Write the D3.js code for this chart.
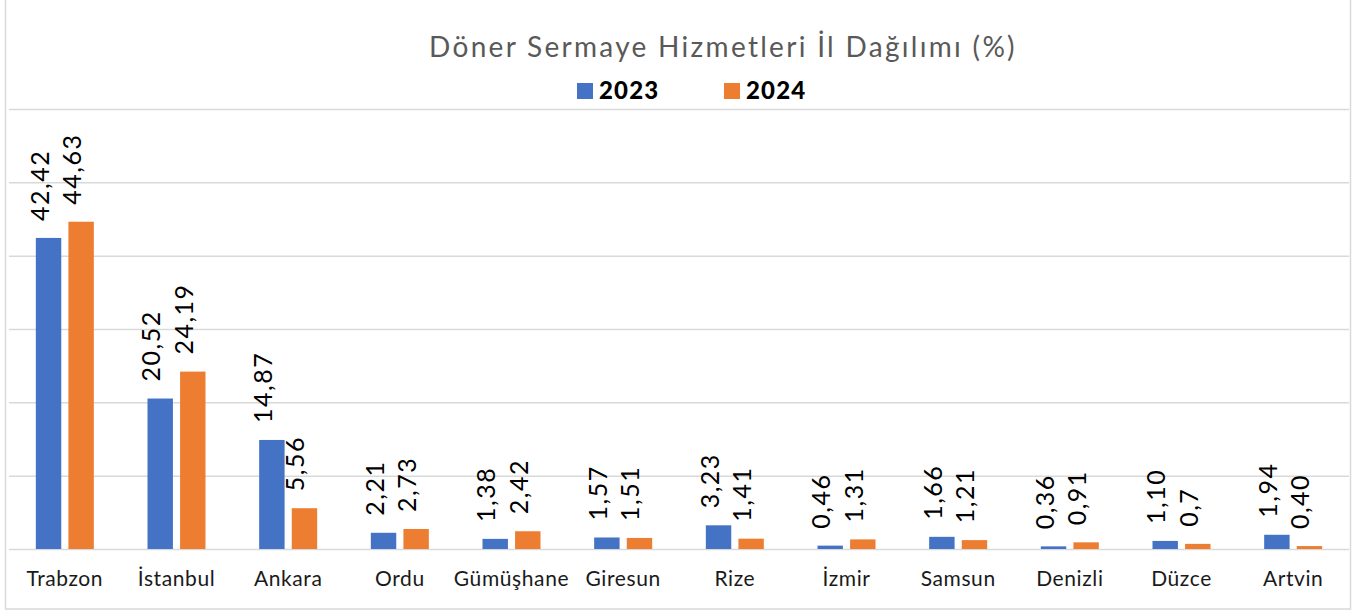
<!DOCTYPE html>
<html>
<head>
<meta charset="utf-8">
<script src="https://cdn.jsdelivr.net/npm/d3@7"></script>
<style>
  body { margin: 0; background: #fff; }
  svg { display: block; font-family: "Lato", sans-serif; }
</style>
</head>
<body>
<div id="chart"></div>
<script>
// Veriler
const cities = ["Trabzon", "İstanbul", "Ankara", "Ordu", "Gümüşhane", "Giresun", "Rize", "İzmir", "Samsun", "Denizli", "Düzce", "Artvin"];
const values2023 = [42.42, 20.52, 14.87, 2.21, 1.38, 1.57, 3.23, 0.46, 1.66, 0.36, 1.10, 1.94];
const values2024 = [44.63, 24.19, 5.56, 2.73, 2.42, 1.51, 1.41, 1.31, 1.21, 0.91, 0.7, 0.40];
const labels2023 = ["42,42", "20,52", "14,87", "2,21", "1,38", "1,57", "3,23", "0,46", "1,66", "0,36", "1,10", "1,94"];
const labels2024 = ["44,63", "24,19", "5,56", "2,73", "2,42", "1,51", "1,41", "1,31", "1,21", "0,91", "0,7", "0,40"];
const years = ["2023", "2024"];
const yTicks = [0, 10, 20, 30, 40, 50, 60];

const width = 1365, height = 611;
const margin = {top: 109, right: 16, bottom: 62, left: 9};
const plotW = width - margin.left - margin.right;
const plotH = height - margin.top - margin.bottom;

const svg = d3.select("#chart")
  .append("svg")
  .attr("width", width)
  .attr("height", height);

// Çerçeve
svg.append("rect")
  .attr("x", 5.5).attr("y", -1)
  .attr("width", 1345).attr("height", 610)
  .attr("fill", "none")
  .attr("stroke", "#d9d9d9")
  .attr("stroke-width", 1.5);

const g = svg.append("g")
  .attr("transform", `translate(${margin.left},${margin.top})`);

// Ölçekler
const x = d3.scaleBand().domain(cities).range([0, plotW]).paddingInner(0).paddingOuter(0);
const x1 = d3.scaleBand().domain(years).range([x.bandwidth() / 2 - 29, x.bandwidth() / 2 + 29]).paddingInner(0.22);
const y = d3.scaleLinear().domain([0, 60]).range([plotH, 0]);

// Izgara çizgileri
g.append("g")
  .call(d3.axisLeft(y).tickValues(yTicks).tickSize(-plotW).tickFormat(""))
  .call(a => a.select(".domain").remove())
  .call(a => a.selectAll(".tick line").attr("stroke", "#d9d9d9").attr("stroke-width", 1.5));

// X ekseni
g.append("g")
  .attr("transform", `translate(0,${plotH})`)
  .call(d3.axisBottom(x).tickSize(0).tickPadding(22))
  .call(a => a.select(".domain").remove())
  .call(a => a.selectAll("text")
    .attr("font-size", 21)
    .attr("letter-spacing", 0.6)
    .attr("fill", "#1a1a1a")
    .attr("font-family", "Lato"));

// Sütunlar
const series = [
  {year: "2023", values: values2023, labels: labels2023, color: "#4472C4"},
  {year: "2024", values: values2024, labels: labels2024, color: "#ED7D31"}
];

series.forEach(s => {
  const grp = g.append("g");
  grp.selectAll("rect")
    .data(cities)
    .enter()
    .append("rect")
    .attr("x", (d, i) => x(d) + x1(s.year))
    .attr("y", (d, i) => y(s.values[i]))
    .attr("width", x1.bandwidth())
    .attr("height", (d, i) => plotH - y(s.values[i]))
    .attr("fill", s.color);

  grp.selectAll("text")
    .data(cities)
    .enter()
    .append("text")
    .attr("transform", (d, i) => {
      const cx = x(d) + x1(s.year) + x1.bandwidth() / 2;
      const cy = y(s.values[i]) - 17;
      return `translate(${cx},${cy}) rotate(-90)`;
    })
    .attr("font-size", 25)
    .attr("letter-spacing", 1.5)
    .attr("fill", "#000")
    .text((d, i) => s.labels[i]);
});

// Başlık
svg.append("text")
  .attr("x", 723).attr("y", 57)
  .attr("text-anchor", "middle")
  .attr("font-size", 28)
  .attr("fill", "#595959")
  .attr("letter-spacing", 2.3)
  .text("Döner Sermaye Hizmetleri İl Dağılımı (%)");

// Lejant
const legend = svg.append("g");
const legendX = [577, 724];
series.forEach((s, i) => {
  legend.append("rect")
    .attr("x", legendX[i]).attr("y", 83)
    .attr("width", 16).attr("height", 16)
    .attr("fill", s.color);
  legend.append("text")
    .attr("x", legendX[i] + 22).attr("y", 99)
    .attr("font-size", 24)
    .attr("font-weight", 900)
    .attr("letter-spacing", 1.2)
    .attr("fill", "#000")
    .text(s.year);
});
</script>
</body>
</html>
